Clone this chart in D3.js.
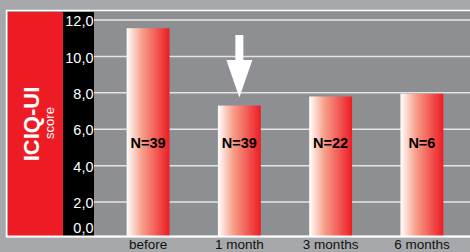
<!DOCTYPE html>
<html lang="en">
<head>
<meta charset="utf-8">
<title>ICIQ-UI score</title>
<script type="text/javascript" src="https://d3js.org/d3.v7.min.js"></script>
<style>
body { margin: 0; background: #a7a8ab; }
svg { display: block; font-family: "Liberation Sans", Arial, sans-serif; }
.grid line { stroke: #e4e4e6; stroke-width: 1.5; }
</style>
</head>
<body>
<div id="container"></div>
<script type="text/javascript">
var categories = ["before", "1 month", "3 months", "6 months"];
var scores = [11.55, 7.3, 7.8, 7.95];
var nLabels = ["N=39", "N=39", "N=22", "N=6"];
var tickValues = [0, 2, 4, 6, 8, 10, 12];
var tickLabels = ["0,0", "2,0", "4,0", "6,0", "8,0", "10,0", "12,0"];

var w = 470, h = 252;
var svg = d3.select("div#container").append("svg")
    .attr("width", w).attr("height", h)
    .attr("viewBox", "0 0 " + w + " " + h);

var y = d3.scaleLinear().domain([0, 12]).range([238.5, 20]);
var x = d3.scaleBand().domain(categories).range([102, 468])
    .paddingInner(0.53).paddingOuter(0.27);
var base = 236.5;

// gradient for bars
var grad = svg.append("defs").append("linearGradient").attr("id", "barGrad")
    .attr("x1", "0%").attr("x2", "100%").attr("y1", "0%").attr("y2", "0%");
grad.append("stop").attr("offset", "0%").attr("stop-color", "#ffffff");
grad.append("stop").attr("offset", "35%").attr("stop-color", "#f7a08b");
grad.append("stop").attr("offset", "100%").attr("stop-color", "#ed1c24");

// background frame
svg.append("rect").attr("x", 0).attr("y", 0).attr("width", w).attr("height", h).attr("fill", "#a7a8ab");
svg.append("rect").attr("x", 6.5).attr("y", 10.5).attr("width", w).attr("height", base - 10.5)
    .attr("fill", "#8e8f92").attr("stroke", "#ffffff").attr("stroke-width", 1.5);

// gridlines
svg.append("g").attr("class", "grid")
    .selectAll("line").data(tickValues.filter(function(d) { return d > 0; }))
    .enter().append("line")
    .attr("x1", 94).attr("x2", w)
    .attr("y1", function(d) { return y(d); })
    .attr("y2", function(d) { return y(d); });

// red title box and black axis box
svg.append("rect").attr("x", 8).attr("y", 12).attr("width", 55).attr("height", base - 12.5).attr("fill", "#ed1c24");
svg.append("rect").attr("x", 63).attr("y", 12).attr("width", 31).attr("height", base - 12.5).attr("fill", "#000000");

svg.append("text")
    .attr("transform", "translate(38.5,124) rotate(-90)")
    .attr("text-anchor", "middle")
    .attr("fill", "#ffffff").attr("font-weight", "bold").attr("font-size", 22)
    .text("ICIQ-UI");
svg.append("text")
    .attr("transform", "translate(54,123) rotate(-90)")
    .attr("text-anchor", "middle")
    .attr("fill", "#ffffff").attr("font-size", 13)
    .text("score");

// y axis labels
var yAxis = d3.axisLeft(y).tickValues(tickValues)
    .tickFormat(function(d, i) { return tickLabels[i]; })
    .tickSize(0).tickPadding(0);
var ya = svg.append("g").attr("transform", "translate(93.5,1)").call(yAxis);
ya.select(".domain").remove();
ya.selectAll(".tick text")
    .attr("fill", "#ffffff").attr("font-size", 14.5)
    .attr("font-family", "'Liberation Sans', Arial, sans-serif");
ya.selectAll(".tick").filter(function(d) { return d === 0; })
    .attr("transform", "translate(0," + (base - 9) + ")");

// bars
svg.selectAll("rect.bar").data(scores).enter().append("rect")
    .attr("class", "bar")
    .attr("x", function(d, i) { return x(categories[i]); })
    .attr("y", function(d) { return y(d); })
    .attr("width", x.bandwidth())
    .attr("height", function(d) { return base - y(d); })
    .attr("fill", "url(#barGrad)");

// N labels
svg.selectAll("text.nlab").data(nLabels).enter().append("text")
    .attr("class", "nlab")
    .attr("x", function(d, i) { return x(categories[i]) + x.bandwidth() / 2; })
    .attr("y", y(4.95))
    .attr("text-anchor", "middle")
    .attr("font-weight", "bold").attr("font-size", 14.5).attr("fill", "#000000")
    .text(function(d) { return d; });

// arrow above 1 month bar
var ax = x(categories[1]) + x.bandwidth() / 2;
var tip = y(scores[1]) - 8;
svg.append("path")
    .attr("d", "M" + (ax - 4) + "," + 35 + "V" + 60 + "H" + (ax - 13) + "L" + ax + "," + tip +
        "L" + (ax + 13) + "," + 60 + "H" + (ax + 4) + "V" + 35 + "Z")
    .attr("fill", "#ffffff");

// bottom white line
svg.append("line").attr("x1", 6).attr("x2", w).attr("y1", base).attr("y2", base)
    .attr("stroke", "#ffffff").attr("stroke-width", 2);

// category labels
svg.selectAll("text.cat").data(categories).enter().append("text")
    .attr("class", "cat")
    .attr("x", function(d) { return x(d) + x.bandwidth() / 2; })
    .attr("y", 248.5)
    .attr("text-anchor", "middle")
    .attr("font-size", 13.5).attr("fill", "#111111")
    .text(function(d) { return d; });
</script>
</body>
</html>
